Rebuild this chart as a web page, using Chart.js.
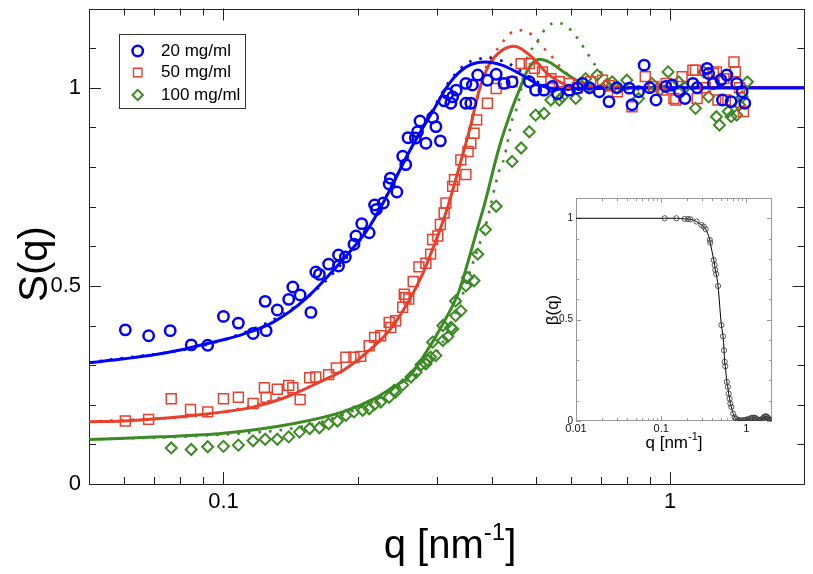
<!DOCTYPE html>
<html>
<head>
<meta charset="utf-8">
<script src="https://cdn.jsdelivr.net/npm/chart.js@4.4.1/dist/chart.umd.min.js"></script>
<style>
    html, body { margin: 0; padding: 0; background: #fff; }
    #wrap  { position: relative; width: 813px; height: 574px; }
    #main  { position: absolute; left: 0; top: 0; }
    #inset { position: absolute; left: 536px; top: 186px; }
</style>
</head>
<body>
<div id="wrap">
    <canvas id="main" width="813" height="574"></canvas>
    <canvas id="inset" width="240" height="272"></canvas>
</div>
<script>
// ── measured S(q), 20 mg/ml (circles)
const q20 = [0.0603, 0.068, 0.076, 0.0847, 0.0922, 0.100, 0.108, 0.1165, 0.124, 0.1246, 0.132, 0.140, 0.143, 0.1485,
    0.157, 0.161, 0.164, 0.172, 0.181, 0.181, 0.1875, 0.196, 0.198, 0.204, 0.212, 0.218, 0.220, 0.228, 0.235, 0.2365,
    0.2445, 0.252, 0.256, 0.259, 0.269, 0.272, 0.2755, 0.284, 0.294, 0.299, 0.306, 0.312, 0.318, 0.323, 0.326, 0.332,
    0.349, 0.349, 0.358, 0.361, 0.371, 0.390, 0.408, 0.425, 0.443, 0.484, 0.500, 0.522, 0.545, 0.56, 0.595, 0.62,
    0.637, 0.66, 0.694, 0.730, 0.76, 0.81, 0.822, 0.85, 0.875, 0.90, 0.93, 0.978, 1.01, 1.05, 1.08, 1.125, 1.15, 1.21,
    1.22, 1.25, 1.30, 1.31, 1.34, 1.37, 1.41, 1.45, 1.47];
const s20 = [0.389, 0.374, 0.387, 0.351, 0.350, 0.423, 0.406, 0.380, 0.461, 0.387, 0.439, 0.466, 0.497, 0.477,
    0.433, 0.535, 0.529, 0.555, 0.578, 0.550, 0.573, 0.605, 0.626, 0.657, 0.634, 0.704, 0.693, 0.709, 0.757, 0.772,
    0.737, 0.827, 0.806, 0.874, 0.873, 0.889, 0.916, 0.860, 0.925, 0.902, 0.866, 0.967, 0.985, 0.961, 0.977, 0.994,
    1.011, 0.961, 0.961, 1.007, 1.032, 1.019, 1.034, 1.011, 1.015, 1.015, 0.994, 0.994, 1.003, 0.985, 0.994, 0.999,
    1.011, 1.000, 0.990, 0.965, 1.000, 0.999, 0.957, 0.990, 1.057, 1.000, 0.969, 1.003, 1.007, 0.990, 0.973, 1.011, 1.000, 1.049,
    1.036, 1.011, 1.020, 0.969, 1.032, 0.965, 1.011, 0.990, 0.961];

// ── measured S(q), 50 mg/ml (squares)
const q50 = [0.0603, 0.068, 0.0764, 0.0844, 0.0922, 0.100, 0.108, 0.1165, 0.1235, 0.1246, 0.132, 0.140, 0.143, 0.1485,
    0.156, 0.161, 0.172, 0.179, 0.188, 0.196, 0.203, 0.212, 0.218, 0.225, 0.235, 0.237, 0.243, 0.252, 0.254, 0.256,
    0.260, 0.266, 0.274, 0.284, 0.291, 0.294, 0.302, 0.306, 0.312, 0.315, 0.326, 0.329, 0.340, 0.349, 0.353, 0.358,
    0.364, 0.369, 0.390, 0.408, 0.425, 0.443, 0.464, 0.484, 0.497, 0.518, 0.541, 0.565, 0.595, 0.62, 0.664, 0.706,
    0.73, 0.762, 0.822, 0.880, 0.92, 0.960, 0.98, 1.02, 1.03, 1.064, 1.125, 1.14, 1.15, 1.20, 1.25, 1.27, 1.28, 1.32,
    1.33, 1.39, 1.40, 1.43, 1.46];
const s50 = [0.159, 0.163, 0.215, 0.188, 0.182, 0.215, 0.219, 0.203, 0.243, 0.219, 0.239, 0.249, 0.243, 0.213,
    0.268, 0.270, 0.276, 0.293, 0.320, 0.320, 0.322, 0.349, 0.370, 0.374, 0.408, 0.395, 0.412, 0.446, 0.479, 0.471,
    0.467, 0.511, 0.548, 0.557, 0.580, 0.617, 0.626, 0.655, 0.684, 0.709, 0.751, 0.768, 0.818, 0.781, 0.839, 0.860,
    0.885, 0.919, 0.961, 0.998, 1.011, 1.015, 1.061, 1.061, 1.049, 1.040, 1.023, 1.015, 1.011, 1.000, 1.015, 1.019,
    1.005, 0.990, 0.952, 1.028, 1.003, 0.994, 1.011, 0.973, 0.969, 1.028, 1.044, 1.044, 0.973, 1.000, 1.036, 1.040, 0.969, 1.023,
    0.969, 1.065, 1.040, 1.000, 0.940];

// ── measured S(q), 100 mg/ml (diamonds)
const q100 = [0.0764, 0.0847, 0.0922, 0.100, 0.108, 0.1165, 0.124, 0.132, 0.140, 0.148, 0.156, 0.164, 0.172, 0.180,
    0.188, 0.196, 0.205, 0.212, 0.218, 0.225, 0.235, 0.241, 0.243, 0.252, 0.263, 0.270, 0.277, 0.284, 0.286, 0.291,
    0.294, 0.299, 0.310, 0.310, 0.318, 0.323, 0.326, 0.331, 0.331, 0.340, 0.349, 0.352, 0.364, 0.371, 0.386, 0.408,
    0.443, 0.464, 0.484, 0.500, 0.522, 0.541, 0.565, 0.574, 0.615, 0.647, 0.66, 0.687, 0.720, 0.742, 0.76, 0.800,
    0.850, 0.910, 0.95, 0.990, 1.045, 1.08, 1.14, 1.19, 1.22, 1.27, 1.29, 1.35, 1.37, 1.41, 1.43, 1.45, 1.49];
const s100 = [0.091, 0.087, 0.094, 0.095, 0.098, 0.109, 0.113, 0.113, 0.119, 0.131, 0.140, 0.142, 0.152, 0.159,
    0.173, 0.182, 0.186, 0.190, 0.201, 0.207, 0.219, 0.236, 0.232, 0.250, 0.270, 0.282, 0.301, 0.303, 0.312, 0.320,
    0.358, 0.324, 0.362, 0.400, 0.372, 0.395, 0.391, 0.425, 0.462, 0.437, 0.500, 0.521, 0.513, 0.580, 0.642, 0.701,
    0.814, 0.848, 0.889, 0.931, 0.935, 0.969, 0.969, 0.977, 0.973, 1.023, 1.000, 1.032, 1.007, 1.015, 1.000, 1.019,
    0.973, 1.011, 0.995, 1.040, 1.015, 1.000, 0.948, 1.040, 0.977, 0.927, 0.906, 0.940, 0.927, 0.931, 0.957, 0.977, 1.015];

// ── model curves (solid)
const fitQ20 = [0.05, 0.06, 0.07, 0.08, 0.09, 0.1, 0.11, 0.129, 0.153, 0.182, 0.209, 0.223, 0.239, 0.256, 0.27,
    0.294, 0.32, 0.349, 0.386, 0.42, 0.46, 0.51, 0.565, 0.65, 0.8, 2];
const fitS20 = [0.306, 0.316, 0.326, 0.338, 0.352, 0.364, 0.377, 0.408, 0.468, 0.557, 0.638, 0.690, 0.755, 0.822, 0.870,
    0.940, 1.010, 1.052, 1.065, 1.057, 1.036, 1.007, 0.997, 0.998, 1.0, 1.0];
const fitQ50 = [0.05, 0.06, 0.072, 0.0854, 0.1, 0.1165, 0.138, 0.164, 0.188, 0.212, 0.235, 0.26, 0.279, 0.291, 0.305,
    0.318, 0.34, 0.358, 0.373, 0.393, 0.42, 0.448, 0.49, 0.536, 0.584, 0.637, 0.75, 2];
const fitS50 = [0.157, 0.159, 0.165, 0.173, 0.182, 0.194, 0.219, 0.257, 0.291, 0.337, 0.387, 0.462, 0.529, 0.580, 0.640,
    0.700, 0.814, 0.906, 0.990, 1.057, 1.094, 1.105, 1.078, 1.032, 1.007, 0.997, 1.0, 1.0];
const fitQ100 = [0.05, 0.072, 0.1, 0.143, 0.185, 0.22, 0.24, 0.26, 0.279, 0.31, 0.337, 0.355, 0.371, 0.384, 0.414,
    0.443, 0.46, 0.48, 0.51, 0.536, 0.584, 0.637, 0.694, 0.8, 2];
const fitS100 = [0.112, 0.119, 0.128, 0.152, 0.182, 0.218, 0.245, 0.270, 0.318, 0.404, 0.487, 0.571, 0.647, 0.705, 0.848,
    0.948, 0.995, 1.045, 1.072, 1.065, 1.036, 1.011, 1.0, 1.0, 1.0];

// ── second model (dotted)
const dotQ20 = [0.05, 0.1, 0.153, 0.209, 0.256, 0.294, 0.32, 0.349, 0.37, 0.39, 0.42, 0.45, 0.48, 0.52, 0.56, 0.62, 0.75, 2];
const dotS20 = [0.306, 0.364, 0.468, 0.638, 0.822, 0.945, 1.015, 1.060, 1.072, 1.075, 1.068, 1.052, 1.030, 1.008, 0.995, 0.995, 1.0, 1.0];
const dotQ50 = [0.05, 0.1, 0.164, 0.212, 0.26, 0.291, 0.318, 0.358, 0.39, 0.417, 0.436, 0.46, 0.48, 0.518, 0.541, 0.57,
    0.61, 0.66, 0.75, 0.9, 2];
const dotS50 = [0.157, 0.182, 0.257, 0.337, 0.462, 0.580, 0.700, 0.910, 1.060, 1.107, 1.135, 1.145, 1.141, 1.103, 1.082, 1.050,
    1.020, 1.000, 0.995, 1.0, 1.0];
const dotQ100 = [0.05, 0.1, 0.15, 0.2, 0.25, 0.3, 0.34, 0.355, 0.373, 0.386, 0.414, 0.425, 0.443, 0.456, 0.48, 0.497,
    0.53, 0.555, 0.58, 0.605, 0.643, 0.68, 0.72, 0.78, 0.85, 1, 2];
const dotS100 = [0.112, 0.125, 0.145, 0.190, 0.250, 0.330, 0.465, 0.530, 0.600, 0.650, 0.789, 0.822, 0.919, 0.956, 1.080, 1.105,
    1.153, 1.164, 1.159, 1.141, 1.099, 1.057, 1.025, 1.000, 0.995, 1.0, 1.0];

// ── inset β(q)
const betaQ = [0.11, 0.151, 0.189, 0.207, 0.221, 0.26, 0.297, 0.316, 0.333, 0.372, 0.377, 0.414, 0.425, 0.432, 0.443,
    0.465, 0.509, 0.532, 0.547, 0.556, 0.566, 0.59, 0.606, 0.62, 0.636, 0.649, 0.667, 0.70, 0.73, 0.76, 0.80, 0.84,
    0.88, 0.92, 0.96, 1.0, 1.05, 1.1, 1.15, 1.2, 1.25, 1.3, 1.35, 1.4, 1.45, 1.5, 1.55, 1.6, 1.65, 1.7, 1.75, 1.8,
    1.85, 1.9, 1.95];
const betaV = [1.0, 1.0, 0.997, 0.996, 0.995, 0.984, 0.967, 0.959, 0.946, 0.893, 0.880, 0.794, 0.769, 0.745, 0.725,
    0.666, 0.473, 0.418, 0.349, 0.292, 0.270, 0.193, 0.168, 0.135, 0.110, 0.086, 0.069, 0.036, 0.018, 0.010, 0.005, 0.003,
    0.003, 0.003, 0.004, 0.005, 0.008, 0.012, 0.015, 0.016, 0.016, 0.013, 0.008, 0.004, 0.003, 0.006, 0.012, 0.018,
    0.022, 0.023, 0.020, 0.014, 0.008, 0.004, 0.002];
const betaStartQ = [0.01];
const betaStartV = [1.0];

// ── ticks and labels
const MAIN_X_LABELS  = [0.1, 1];
const MAIN_X_MINOR   = [0.06, 0.07, 0.08, 0.09, 0.2, 0.3, 0.4, 0.5, 0.6, 0.7, 0.8, 0.9];
const MAIN_Y_LABELS  = [0, 0.5, 1];
const MAIN_Y_MINOR   = [0.1, 0.2, 0.3, 0.4, 0.6, 0.7, 0.8, 0.9, 1.1];
const INSET_X_LABELS = [0.01, 0.1, 1];
const INSET_X_MINOR  = [0.02, 0.03, 0.04, 0.05, 0.06, 0.07, 0.08, 0.09, 0.2, 0.3, 0.4, 0.5, 0.6, 0.7, 0.8, 0.9];
const INSET_Y_LABELS = [0, 0.5, 1];
const INSET_Y_MINOR  = [0.1, 0.2, 0.3, 0.4, 0.6, 0.7, 0.8, 0.9];
const SERIES_LABELS  = ['20 mg/ml', '50 mg/ml', '100 mg/ml'];

const FONT  = "'Liberation Sans', Arial, Helvetica, sans-serif";
const BLUE  = '#0000ff';
const RED   = '#e8402c';
const GREEN = '#3b8a24';
const NONE  = 'rgba(0,0,0,0)';

const pts = (qs, ss) => qs.map((q, i) => ({ x: q, y: ss[i] }));

function markerSet(label, qs, ss, color, style, radius, width) {
    return {
        label, data: pts(qs, ss), showLine: false,
        pointStyle: style, pointRadius: radius, pointHoverRadius: radius,
        pointBorderWidth: width, pointBorderColor: color, pointBackgroundColor: NONE,
        borderColor: color, backgroundColor: NONE, order: 1, legendEntry: true
    };
}

function curveSet(qs, ss, color, dotted) {
    return {
        data: pts(qs, ss), showLine: true, pointRadius: 0, pointHoverRadius: 0,
        borderColor: color, backgroundColor: NONE,
        borderWidth: dotted ? 2.6 : 3, borderDash: dotted ? [2.6, 8] : [],
        cubicInterpolationMode: 'monotone', fill: false, order: dotted ? 3 : 2
    };
}

// оси без полей под крайние подписи: область графика задаём сами
const noPad = s => { s.paddingTop = 0; s.paddingBottom = 0; s.paddingLeft = 0; s.paddingRight = 0; };

// ── рамка и засечки внутрь, со всех четырёх сторон
const frameTicks = {
    id: 'frameTicks',
    beforeDatasetsDraw(chart, _args, o) {
        const { ctx, chartArea: a, scales: { x, y } } = chart;
        ctx.save();
        ctx.strokeStyle = o.color;
        ctx.lineWidth = 1;
        ctx.beginPath();
        const xs = (vals, len) => vals.forEach(v => {
            const p = Math.round(x.getPixelForValue(v)) + 0.5;
            ctx.moveTo(p, a.bottom); ctx.lineTo(p, a.bottom - len);
            ctx.moveTo(p, a.top);    ctx.lineTo(p, a.top + len);
        });
        const ys = (vals, len) => vals.forEach(v => {
            const p = Math.round(y.getPixelForValue(v)) + 0.5;
            ctx.moveTo(a.left, p);  ctx.lineTo(a.left + len, p);
            ctx.moveTo(a.right, p); ctx.lineTo(a.right - len, p);
        });
        xs(o.xMajor, o.major); xs(o.xMinor, o.minor);
        ys(o.yMajor, o.major); ys(o.yMinor, o.minor);
        ctx.stroke();
        ctx.strokeRect(Math.round(a.left) + 0.5, Math.round(a.top) + 0.5,
                       Math.round(a.width) - 1, Math.round(a.height) - 1);
        ctx.restore();
    }
};

// ── подписи осей (с верхним индексом)
function supText(ctx, cx, base, parts, size, supSize, rise) {
    const [a, b, c] = parts;
    ctx.font = `${size}px ${FONT}`;
    const w1 = ctx.measureText(a).width, w3 = ctx.measureText(c).width;
    ctx.font = `${supSize}px ${FONT}`;
    const w2 = ctx.measureText(b).width;
    let x = cx - (w1 + w2 + w3) / 2;
    ctx.textAlign = 'left';
    ctx.textBaseline = 'alphabetic';
    ctx.font = `${size}px ${FONT}`;    ctx.fillText(a, x, base); x += w1;
    ctx.font = `${supSize}px ${FONT}`; ctx.fillText(b, x, base - rise); x += w2;
    ctx.font = `${size}px ${FONT}`;    ctx.fillText(c, x, base);
}

const axisTitles = {
    id: 'axisTitles',
    afterDraw(chart, _args, o) {
        const { ctx } = chart;
        ctx.save();
        ctx.fillStyle = '#000';
        supText(ctx, o.x.cx, o.x.base, o.x.parts, o.x.size, o.x.supSize, o.x.rise);
        ctx.translate(o.y.base, o.y.cy);
        ctx.rotate(-Math.PI / 2);
        ctx.font = `${o.y.size}px ${FONT}`;
        ctx.textAlign = 'center';
        ctx.textBaseline = 'alphabetic';
        ctx.fillText(o.y.text, 0, 0);
        ctx.restore();
    }
};

// ── легенда в рамке
const boxLegend = {
    id: 'boxLegend',
    afterDraw(chart, _args, o) {
        const { ctx } = chart;
        const sets = chart.data.datasets.filter(d => d.legendEntry);
        ctx.save();
        ctx.strokeStyle = '#333';
        ctx.lineWidth = 1;
        ctx.strokeRect(o.left + 0.5, o.top + 0.5, o.width, o.height);
        sets.forEach((d, i) => {
            const y = o.rows[i];
            ctx.strokeStyle = d.pointBorderColor;
            ctx.fillStyle = NONE;
            ctx.lineWidth = o.marker[i].width;
            Chart.helpers.drawPoint(ctx, {
                pointStyle: d.pointStyle, radius: o.marker[i].radius, rotation: 0, borderWidth: o.marker[i].width
            }, o.markerX, y);
            ctx.fillStyle = '#000';
            ctx.font = `${o.size}px ${FONT}`;
            ctx.textAlign = 'left';
            ctx.textBaseline = 'middle';
            ctx.fillText(d.label, o.textX, y);
        });
        ctx.restore();
    }
};

Chart.defaults.font.family = FONT;

new Chart(document.getElementById('main'), {
    type: 'scatter',
    data: {
        datasets: [
            markerSet(SERIES_LABELS[0], q20, s20, BLUE, 'circle', 5.2, 2.5),
            markerSet(SERIES_LABELS[1], q50, s50, RED, 'rect', 7, 1.5),
            markerSet(SERIES_LABELS[2], q100, s100, GREEN, 'rectRot', 5.5, 2),
            curveSet(fitQ20, fitS20, BLUE, false),
            curveSet(fitQ50, fitS50, RED, false),
            curveSet(fitQ100, fitS100, GREEN, false),
            curveSet(dotQ20, dotS20, BLUE, true),
            curveSet(dotQ50, dotS50, RED, true),
            curveSet(dotQ100, dotS100, GREEN, true)
        ]
    },
    options: {
        responsive: false,
        animation: false,
        devicePixelRatio: 1,
        layout: { padding: { top: 7, right: 7, left: 0, bottom: 0 } },
        plugins: {
            legend:  { display: false },
            tooltip: { enabled: false },
            frameTicks: {
                color: '#222', major: 12, minor: 7,
                xMajor: MAIN_X_LABELS, xMinor: MAIN_X_MINOR, yMajor: MAIN_Y_LABELS, yMinor: MAIN_Y_MINOR
            },
            axisTitles: {
                x: { cx: 450, base: 558, parts: ['q [nm', '-1', ']'], size: 40, supSize: 24, rise: 18 },
                y: { base: 47, cy: 264, text: 'S(q)', size: 40 }
            },
            boxLegend: {
                left: 119, top: 34, width: 126, height: 74,
                rows: [51, 72.5, 95], markerX: 137.7, textX: 161, size: 17,
                marker: [{ radius: 5.2, width: 2.5 }, { radius: 6, width: 1.4 }, { radius: 5.2, width: 2 }]
            }
        },
        scales: {
            x: {
                type: 'logarithmic', min: 0.05, max: 2,
                afterBuildTicks: s => { s.ticks = MAIN_X_LABELS.map(v => ({ value: v })); },
                afterFit: s => { s.height = 90; noPad(s); },
                grid: { display: false, drawTicks: false },
                border: { display: false },
                ticks: {
                    color: '#000', font: { size: 22 }, padding: 5,
                    maxRotation: 0, autoSkip: false, callback: v => String(v)
                }
            },
            y: {
                min: 0, max: 1.2,
                afterBuildTicks: s => { s.ticks = MAIN_Y_LABELS.map(v => ({ value: v })); },
                afterFit: s => { s.width = 89; noPad(s); },
                grid: { display: false, drawTicks: false },
                border: { display: false },
                ticks: { color: '#000', font: { size: 22 }, padding: 8, callback: v => String(v) }
            }
        }
    },
    plugins: [frameTicks, axisTitles, boxLegend]
});

new Chart(document.getElementById('inset'), {
    type: 'scatter',
    data: {
        datasets: [
            {
                data: pts(betaQ, betaV), showLine: false,
                pointStyle: 'circle', pointRadius: 2.6, pointHoverRadius: 2.6, pointBorderWidth: 0.8,
                pointBorderColor: '#333', pointBackgroundColor: NONE, order: 1
            },
            {
                data: pts(betaStartQ.concat(betaQ), betaStartV.concat(betaV)), showLine: true,
                pointRadius: 0, pointHoverRadius: 0, borderColor: '#000', borderWidth: 1,
                cubicInterpolationMode: 'monotone', fill: false, order: 2
            }
        ]
    },
    options: {
        responsive: false,
        animation: false,
        devicePixelRatio: 1,
        layout: { padding: { top: 12, right: 4, left: 0, bottom: 0 } },
        plugins: {
            legend:  { display: false },
            tooltip: { enabled: false },
            frameTicks: {
                color: '#999', major: 5, minor: 3,
                xMajor: INSET_X_LABELS, xMinor: INSET_X_MINOR, yMajor: INSET_Y_LABELS, yMinor: INSET_Y_MINOR
            },
            axisTitles: {
                x: { cx: 138, base: 262, parts: ['q [nm', '-1', ']'], size: 17, supSize: 11, rise: 8 },
                y: { base: 22, cy: 124, text: 'β(q)', size: 17 }
            }
        },
        scales: {
            x: {
                type: 'logarithmic', min: 0.01, max: 2,
                afterBuildTicks: s => { s.ticks = INSET_X_LABELS.map(v => ({ value: v })); },
                afterFit: s => { s.height = 37; noPad(s); },
                grid: { display: false, drawTicks: false },
                border: { display: false },
                ticks: {
                    color: '#111', font: { size: 11 }, padding: 1,
                    maxRotation: 0, autoSkip: false, callback: v => String(v)
                }
            },
            y: {
                min: 0, max: 1.1,
                afterBuildTicks: s => { s.ticks = INSET_Y_LABELS.map(v => ({ value: v })); },
                afterFit: s => { s.width = 40; noPad(s); },
                grid: { display: false, drawTicks: false },
                border: { display: false },
                ticks: { color: '#111', font: { size: 10 }, padding: 3, callback: v => String(v) }
            }
        }
    },
    plugins: [frameTicks, axisTitles]
});
</script>
</body>
</html>
